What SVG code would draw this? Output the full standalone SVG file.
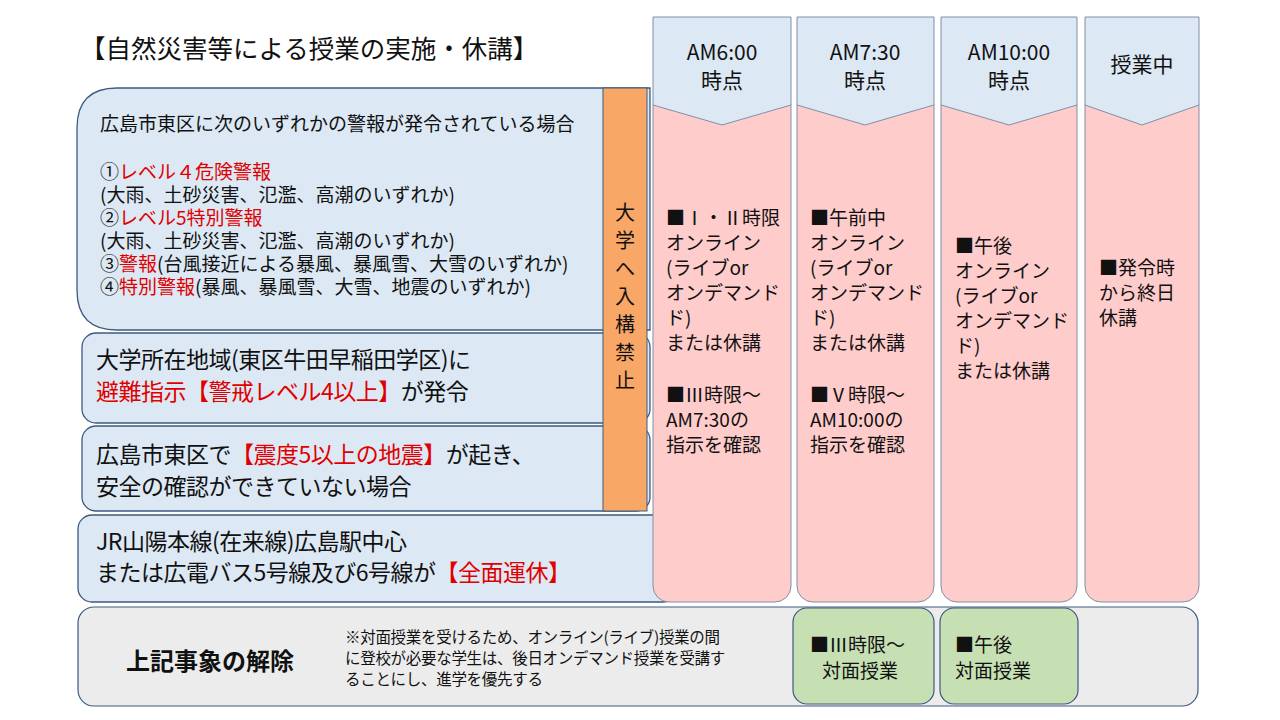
<svg xmlns="http://www.w3.org/2000/svg" width="1280" height="720" viewBox="0 0 1280 720">
<style>
text{font-family:"Noto Sans CJK JP","Noto Sans",sans-serif;fill:#111}
.r{fill:#e00000}
.blue{fill:#dce8f4;stroke:#3d5a80;stroke-width:1.3}
.pink{fill:#ffcccc;stroke:#7f8fa6;stroke-width:1}
.hdr{fill:#dce8f4;stroke:#7f8fa6;stroke-width:1}
.grn{fill:#c6e0b4;stroke:#3d5a80;stroke-width:1.2}
.c{font-size:19px}
.h{font-size:21px;text-anchor:middle}
</style>
<rect width="1280" height="720" fill="#fff"/>
<text x="80" y="58" font-size="25.5">【自然災害等による授業の実施・休講】</text>
<g id="row1"><path class="blue" d="M117 88 H650 V330 H117 Q77 330 77 290 V128 Q77 88 117 88Z"/>
<text font-size="19"><tspan x="100" y="131">広島市東区に次のいずれかの警報が発令されている場合</tspan>
<tspan x="100" y="179">①<tspan class="r">レベル４危険警報</tspan></tspan>
<tspan x="100" y="202">(大雨、土砂災害、氾濫、高潮のいずれか)</tspan>
<tspan x="100" y="225">②<tspan class="r">レベル5特別警報</tspan></tspan>
<tspan x="100" y="248">(大雨、土砂災害、氾濫、高潮のいずれか)</tspan>
<tspan x="100" y="271">③<tspan class="r">警報</tspan>(台風接近による暴風、暴風雪、大雪のいずれか)</tspan>
<tspan x="100" y="294">④<tspan class="r">特別警報</tspan>(暴風、暴風雪、大雪、地震のいずれか)</tspan></text></g>
<g id="row2"><rect class="blue" x="82" y="333" width="568" height="90" rx="14"/>
<text font-size="23" letter-spacing="-0.5"><tspan x="96" y="368">大学所在地域(東区牛田早稲田学区)に</tspan><tspan x="96" y="400"><tspan class="r">避難指示【警戒レベル4以上】</tspan>が発令</tspan></text></g>
<g id="row3"><rect class="blue" x="82" y="426" width="568" height="85" rx="14"/>
<text font-size="23" letter-spacing="-0.5"><tspan x="96" y="463">広島市東区で<tspan class="r">【震度5以上の地震】</tspan>が起き、</tspan><tspan x="96" y="495">安全の確認ができていない場合</tspan></text></g>
<g id="row4"><rect class="blue" x="78" y="515" width="600" height="87" rx="14"/>
<text font-size="23" letter-spacing="-0.5"><tspan x="96" y="550">JR山陽本線(在来線)広島駅中心</tspan><tspan x="96" y="581">または広電バス5号線及び6号線が<tspan class="r">【全面運休】</tspan></tspan></text></g>
<g id="ban"><rect x="603" y="88" width="44" height="423" fill="#f9a766" stroke="#3d5a80" stroke-width="1"/>
<text font-size="20" text-anchor="middle"><tspan x="625" y="220">大</tspan><tspan x="625" y="248">学</tspan><tspan x="625" y="276">へ</tspan><tspan x="625" y="304">入</tspan><tspan x="625" y="332">構</tspan><tspan x="625" y="360">禁</tspan><tspan x="625" y="388">止</tspan></text></g>
<g id="bottom"><rect x="78" y="607" width="1120" height="99" rx="16" fill="#ececec" stroke="#3d5a80" stroke-width="1.2"/>
<text x="210" y="670" font-size="24" font-weight="bold" text-anchor="middle">上記事象の解除</text>
<text font-size="15.5" letter-spacing="-0.3"><tspan x="345" y="643">※対面授業を受けるため、オンライン(ライブ)授業の間</tspan><tspan x="345" y="664">に登校が必要な学生は、後日オンデマンド授業を受講す</tspan><tspan x="345" y="685">ることにし、進学を優先する</tspan></text></g>
<g id="col1"><rect class="pink" x="653" y="90" width="138" height="512" rx="16"/><path class="hdr" d="M653 17H791V105L722 125L653 105Z"/>
<text class="h"><tspan x="722" y="60">AM6:00</tspan><tspan x="722" y="88">時点</tspan></text>
<text class="c"><tspan x="666" y="225">■Ⅰ・Ⅱ時限</tspan><tspan x="666" y="250">オンライン</tspan><tspan x="666" y="275">(ライブor</tspan><tspan x="666" y="300">オンデマンド</tspan><tspan x="666" y="325">ド)</tspan><tspan x="666" y="350">または休講</tspan><tspan x="666" y="402">■Ⅲ時限～</tspan><tspan x="666" y="427">AM7:30の</tspan><tspan x="666" y="452">指示を確認</tspan></text></g>
<g id="col2"><rect class="pink" x="797" y="90" width="137" height="512" rx="16"/><path class="hdr" d="M797 17H934V105L865 125L797 105Z"/>
<text class="h"><tspan x="865" y="60">AM7:30</tspan><tspan x="865" y="88">時点</tspan></text>
<text class="c"><tspan x="810" y="225">■午前中</tspan><tspan x="810" y="250">オンライン</tspan><tspan x="810" y="275">(ライブor</tspan><tspan x="810" y="300">オンデマンド</tspan><tspan x="810" y="325">ド)</tspan><tspan x="810" y="350">または休講</tspan><tspan x="810" y="402">■Ⅴ時限～</tspan><tspan x="810" y="427">AM10:00の</tspan><tspan x="810" y="452">指示を確認</tspan></text></g>
<g id="col3"><rect class="pink" x="941" y="90" width="136" height="512" rx="16"/><path class="hdr" d="M941 17H1077V105L1009 125L941 105Z"/>
<text class="h"><tspan x="1009" y="60">AM10:00</tspan><tspan x="1009" y="88">時点</tspan></text>
<text class="c"><tspan x="955" y="253">■午後</tspan><tspan x="955" y="278">オンライン</tspan><tspan x="955" y="303">(ライブor</tspan><tspan x="955" y="328">オンデマンド</tspan><tspan x="955" y="353">ド)</tspan><tspan x="955" y="378">または休講</tspan></text></g>
<g id="col4"><rect class="pink" x="1085" y="90" width="114" height="512" rx="16"/><path class="hdr" d="M1085 17H1199V105L1142 125L1085 105Z"/>
<text class="h"><tspan x="1142" y="72">授業中</tspan></text>
<text class="c"><tspan x="1099" y="275">■発令時</tspan><tspan x="1099" y="300">から終日</tspan><tspan x="1099" y="325">休講</tspan></text></g>
<g id="g1"><rect class="grn" x="793" y="608" width="141" height="96" rx="14"/><text class="c"><tspan x="810" y="652">■Ⅲ時限～</tspan><tspan x="822" y="678">対面授業</tspan></text></g>
<g id="g2"><rect class="grn" x="940" y="608" width="138" height="96" rx="14"/><text class="c"><tspan x="955" y="652">■午後</tspan><tspan x="955" y="678">対面授業</tspan></text></g>
<g id="connectors"/>
</svg>
